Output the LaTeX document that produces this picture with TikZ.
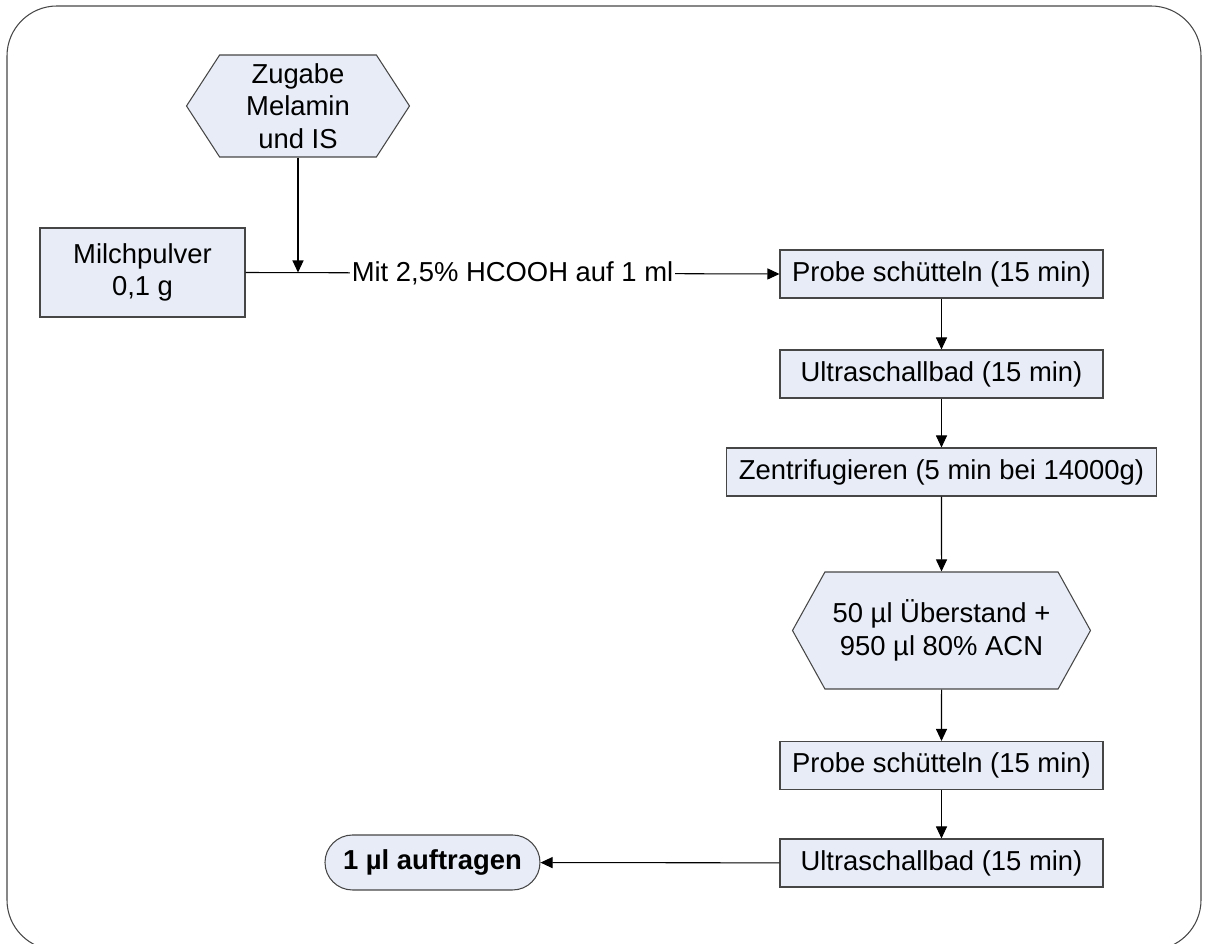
\documentclass[tikz,border=0pt]{standalone}
\usepackage{fontspec}
\setmainfont{Liberation Sans}
\usepackage{xcolor}
\usetikzlibrary{positioning, arrows.meta, shapes.symbols}
\definecolor{stepfill}{RGB}{231,236,247}
\definecolor{stepdraw}{RGB}{70,70,70}

\begin{document}
\begin{tikzpicture}[
  font=\fontsize{15.6}{18.5}\selectfont,
  procb/.style={draw=stepdraw, fill=stepfill, line width=0.6pt,
                minimum width=6.46cm, minimum height=0.96cm, align=center, inner sep=2pt},
  prepb/.style={draw=stepdraw, fill=stepfill, line width=0.6pt, shape=signal,
                signal to=west and east, align=center, inner sep=2pt},
  termb/.style={draw=stepdraw, fill=stepfill, line width=0.6pt, rounded corners=0.55cm,
                minimum width=4.3cm, minimum height=1.1cm, font=\fontsize{15.6}{18.5}\selectfont\bfseries},
  arr/.style={-{Triangle[length=0.24cm, width=0.22cm]}, line width=0.6pt},
]
\useasboundingbox (0,0) rectangle (24.18,18.88);

% Outer frame (bottom edge runs off the page)
\draw[stepdraw, line width=0.6pt, rounded corners=1cm] (0.14,-0.12) rectangle (24.02,18.76);

% Sample and additive
\node[prepb, signal pointer angle=114, minimum width=4.46cm, minimum height=2.04cm]
  (zugabe) at (5.96, 16.76) {Zugabe\\Melamin\\und IS};
\node[procb, minimum width=4.1cm, minimum height=1.78cm] (milch) at (2.85, 13.43) {Milchpulver\\0,1 g};

% Extraction steps
\node[procb] (probe1) at (18.83, 13.40) {Probe schütteln (15 min)};
\node[procb] (ultra1) at (18.83, 11.40) {Ultraschallbad (15 min)};
\node[procb, minimum width=8.6cm] (zentri) at (18.83, 9.44) {Zentrifugieren (5 min bei 14000g)};

% Dilution
\node[prepb, signal pointer angle=122, minimum width=5.96cm, minimum height=2.34cm]
  (verd) at (18.83, 6.27) {50 µl Überstand +\\950 µl 80\% ACN};

\node[procb] (probe2) at (18.83, 3.57) {Probe schütteln (15 min)};
\node[procb] (ultra2) at (18.83, 1.62) {Ultraschallbad (15 min)};

% End
\node[termb] (auftr) at (8.65, 1.63) {1 µl auftragen};

% Arrows
\draw[arr] (zugabe.south) -- (zugabe.south |- milch.east);
\draw[arr] (milch.east) -- node[fill=white, inner sep=1pt] {Mit 2,5\% HCOOH auf 1 ml} (probe1.west);
\draw[arr] (probe1) -- (ultra1);
\draw[arr] (ultra1) -- (zentri);
\draw[arr] (zentri) -- (verd);
\draw[arr] (verd) -- (probe2);
\draw[arr] (probe2) -- (ultra2);
\draw[arr] (ultra2) -- (auftr);
\end{tikzpicture}
\end{document}
